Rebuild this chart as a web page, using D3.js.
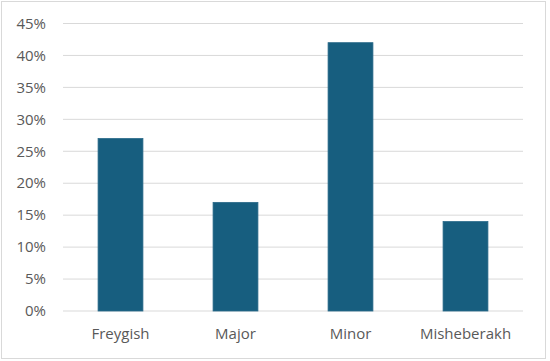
<!DOCTYPE html>
<html><head><meta charset="utf-8">
<script src="https://cdn.jsdelivr.net/npm/d3@7"></script>
<style>body{margin:0;background:#fff}</style>
</head><body>
<script>
const categories = ["Freygish", "Major", "Minor", "Misheberakh"];
const values = [0.27, 0.17, 0.42, 0.14];
const yTicks = [0, 0.05, 0.10, 0.15, 0.20, 0.25, 0.30, 0.35, 0.40, 0.45];

const W = 550, H = 361;
const svg = d3.select("body").append("svg").attr("width", W).attr("height", H);
svg.append("rect").attr("x", 1.5).attr("y", 1.5).attr("width", 544).attr("height", 357)
  .attr("fill", "#fff").attr("stroke", "#d9d9d9").attr("stroke-width", 1);

const x = d3.scaleBand().domain(categories).range([63, 523]).padding(0);
const y = d3.scaleLinear().domain([0, 0.45]).range([311, 23.5]);

const font = "'Open Sans', 'Noto Sans', sans-serif";
svg.append("g").selectAll("line").data(yTicks).join("line")
  .attr("x1", 63).attr("x2", 523)
  .attr("y1", d => y(d)).attr("y2", d => y(d))
  .attr("stroke", "#d9d9d9").attr("stroke-width", 1);

svg.append("g").selectAll("text").data(yTicks).join("text")
  .attr("x", 46).attr("y", d => y(d)).attr("dy", "0.35em")
  .attr("text-anchor", "end").attr("font-family", font).attr("font-size", 15)
  .attr("fill", "#595959").text(d => d3.format(".0%")(d));

const bw = x.bandwidth() * 0.39;
svg.append("g").selectAll("rect").data(values).join("rect")
  .attr("x", (d, i) => x(categories[i]) + x.bandwidth() / 2 - bw / 2)
  .attr("width", bw)
  .attr("y", d => y(d)).attr("height", d => y(0) - y(d))
  .attr("fill", "#175e7f").attr("stroke", "#2a6a8a").attr("stroke-width", 0.8);

svg.append("g").selectAll("text").data(categories).join("text")
  .attr("x", d => x(d) + x.bandwidth() / 2).attr("y", 339)
  .attr("text-anchor", "middle").attr("font-family", font).attr("font-size", 15)
  .attr("fill", "#595959").text(d => d);
</script>
</body></html>
